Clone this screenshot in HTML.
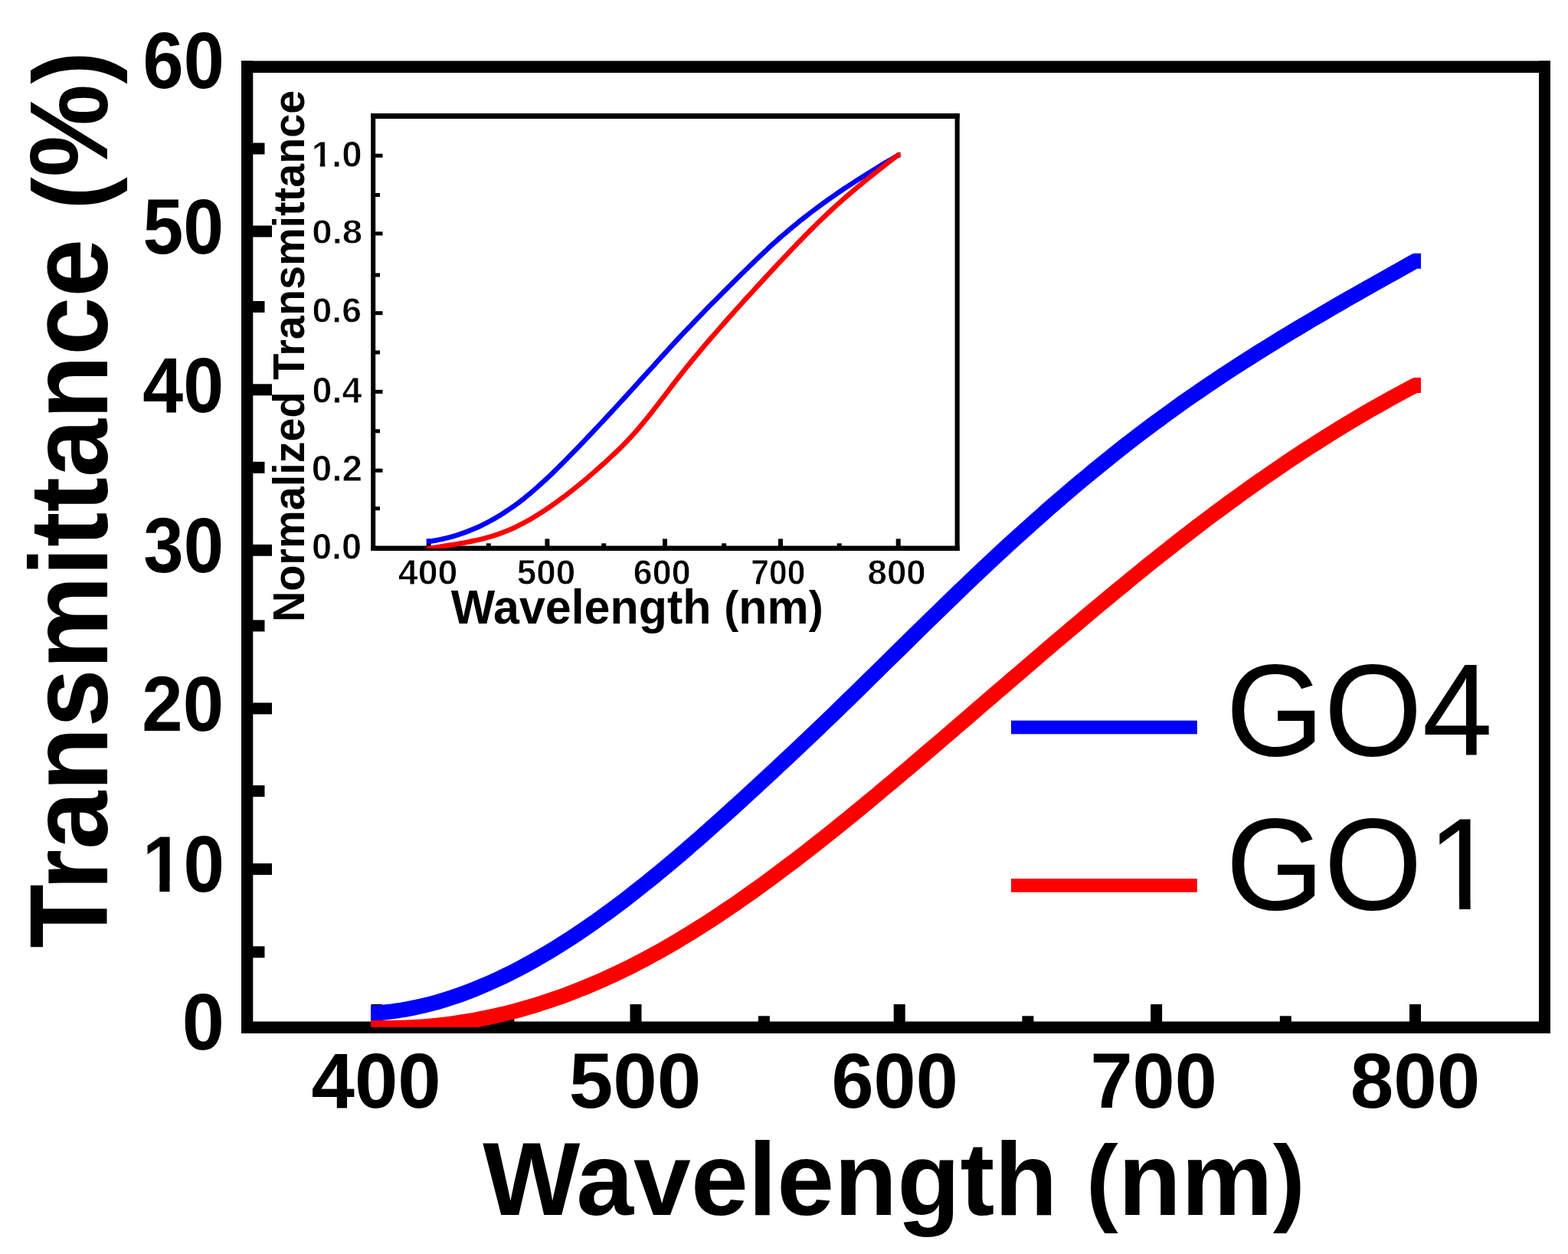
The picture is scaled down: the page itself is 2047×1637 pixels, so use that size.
<!DOCTYPE html>
<html><head><meta charset="utf-8"><title>Transmittance spectra</title>
<style>
html,body{margin:0;padding:0;background:#fff;overflow:hidden;}
svg{display:block;}
.b{font-family:"Liberation Sans",Arial,sans-serif;font-weight:bold;fill:#000;}
.thin{stroke:#fff;stroke-width:0.8px;}
.r{font-family:"Liberation Sans",Arial,sans-serif;font-weight:normal;fill:#000;}
</style></head>
<body>
<svg width="2047" height="1637" viewBox="0 0 2047 1637">
<defs>
<clipPath id="cm"><rect x="322" y="87" width="1694" height="1254"/></clipPath>
<clipPath id="ci"><rect x="487" y="151" width="763" height="565"/></clipPath>
</defs>
<rect width="2047" height="1637" fill="#fff"/>
<defs><clipPath id="cf10" clipPathUnits="userSpaceOnUse"><rect x="-5000.00" y="-5000.00" width="10000.00" height="6151.64"/><rect x="-5000.00" y="-5000.00" width="5180.47" height="10000.00"/><rect x="199.35" y="-5000.00" width="14.00" height="10000.00"/><rect x="230.93" y="-5000.00" width="5000.00" height="10000.00"/></clipPath><clipPath id="cf1d0" clipPathUnits="userSpaceOnUse"><rect x="-5000.00" y="-5000.00" width="10000.00" height="5210.56"/><rect x="-5000.00" y="-5000.00" width="5411.11" height="10000.00"/><rect x="420.10" y="-5000.00" width="6.04" height="10000.00"/><rect x="434.58" y="-5000.00" width="5000.00" height="10000.00"/></clipPath><clipPath id="cfgo1" clipPathUnits="userSpaceOnUse"><rect x="-5000.00" y="-5000.00" width="10000.00" height="6172.10"/><rect x="-5000.00" y="-5000.00" width="6876.38" height="10000.00"/><rect x="1906.98" y="-5000.00" width="14.67" height="10000.00"/><rect x="1950.96" y="-5000.00" width="5000.00" height="10000.00"/></clipPath></defs>
<g fill="#000">
<rect x="315" y="79.5" width="15.3" height="1269.5"/>
<rect x="2009" y="79.5" width="15" height="1269.5"/>
<rect x="315" y="79.5" width="1709" height="15.5"/>
<rect x="315" y="1333.5" width="1709" height="15.5"/>
<rect x="484.2" y="148" width="6" height="571"/>
<rect x="1246.6" y="148" width="6.1" height="571"/>
<rect x="484.2" y="148" width="768.5" height="7"/>
<rect x="484.2" y="712.5" width="768.5" height="6.5"/>
<rect x="330" y="294.5" width="25" height="15"/>
<rect x="330" y="501.3" width="25" height="15"/>
<rect x="330" y="710.8" width="25" height="15"/>
<rect x="330" y="917.4" width="25" height="15"/>
<rect x="330" y="1127.1" width="25" height="15"/>
<rect x="330" y="186.5" width="15.5" height="15"/>
<rect x="330" y="393.0" width="15.5" height="15"/>
<rect x="330" y="602.8" width="15.5" height="15"/>
<rect x="330" y="809.4" width="15.5" height="15"/>
<rect x="330" y="1025.2" width="15.5" height="15"/>
<rect x="330" y="1235.3" width="15.5" height="15"/>
<rect x="484.5" y="1311" width="15" height="23"/>
<rect x="822.5" y="1311" width="15" height="23"/>
<rect x="1166.7" y="1311" width="15" height="23"/>
<rect x="1502.1" y="1311" width="15" height="23"/>
<rect x="1840.0" y="1311" width="15" height="23"/>
<rect x="656.4" y="1326.3" width="15" height="8"/>
<rect x="989.9" y="1326.3" width="15" height="8"/>
<rect x="1334.4" y="1326.3" width="15" height="8"/>
<rect x="1670.8" y="1326.3" width="15" height="8"/>
<rect x="490" y="200.7" width="9.5" height="5"/>
<rect x="490" y="302.4" width="9.5" height="5"/>
<rect x="490" y="406.2" width="9.5" height="5"/>
<rect x="490" y="508.9" width="9.5" height="5"/>
<rect x="490" y="611.7" width="9.5" height="5"/>
<rect x="490" y="252.0" width="6" height="5"/>
<rect x="490" y="356.5" width="6" height="5"/>
<rect x="490" y="457.5" width="6" height="5"/>
<rect x="490" y="560.3" width="6" height="5"/>
<rect x="490" y="661.3" width="6" height="5"/>
<rect x="556.7" y="703.4" width="6" height="10"/>
<rect x="711.4" y="703.4" width="6" height="10"/>
<rect x="865.0" y="703.4" width="6" height="10"/>
<rect x="1016.0" y="703.4" width="6" height="10"/>
<rect x="1169.7" y="703.4" width="6" height="10"/>
<rect x="634.8" y="709.3" width="6" height="4"/>
<rect x="785.2" y="709.3" width="6" height="4"/>
<rect x="942.1" y="709.3" width="6" height="4"/>
<rect x="1092.7" y="709.3" width="6" height="4"/>
</g>
<g clip-path="url(#cm)" fill="none" stroke-width="20" stroke-linecap="butt" stroke-linejoin="round">
<path d="M484.0 1322.4 L492.2 1322.4 L502.0 1321.5 L511.7 1320.4 L521.5 1319.0 L531.2 1317.3 L541.0 1315.4 L550.7 1313.3 L560.5 1310.9 L570.2 1308.3 L580.0 1305.4 L589.7 1302.3 L599.5 1299.0 L609.2 1295.4 L619.0 1291.6 L628.7 1287.6 L638.5 1283.4 L648.2 1279.0 L658.0 1274.4 L667.7 1269.6 L677.5 1264.6 L687.2 1259.4 L697.0 1254.0 L706.7 1248.4 L716.5 1242.6 L726.2 1236.7 L736.0 1230.6 L745.7 1224.3 L755.5 1217.8 L765.2 1211.2 L775.0 1204.5 L784.7 1197.5 L794.5 1190.5 L804.2 1183.2 L814.0 1175.9 L823.7 1168.4 L833.5 1160.7 L843.2 1153.0 L853.0 1145.1 L862.7 1137.1 L872.5 1129.0 L882.2 1120.8 L892.0 1112.5 L901.7 1104.0 L911.5 1095.6 L921.2 1087.0 L931.0 1078.3 L940.7 1069.6 L950.5 1060.8 L960.2 1052.0 L970.0 1043.1 L979.7 1034.2 L989.5 1025.2 L999.2 1016.2 L1009.0 1007.1 L1018.7 998.0 L1028.5 988.9 L1038.2 979.7 L1048.0 970.5 L1057.7 961.2 L1067.5 951.9 L1077.2 942.6 L1087.0 933.2 L1096.7 923.8 L1106.5 914.3 L1116.2 904.8 L1126.0 895.3 L1135.7 885.7 L1145.5 876.1 L1155.2 866.5 L1165.0 856.9 L1174.7 847.3 L1184.5 837.8 L1194.2 828.2 L1204.0 818.6 L1213.7 809.1 L1223.5 799.6 L1233.2 790.1 L1243.0 780.7 L1252.7 771.3 L1262.5 761.9 L1272.2 752.6 L1282.0 743.4 L1291.7 734.3 L1301.5 725.2 L1311.2 716.2 L1321.0 707.2 L1330.7 698.4 L1340.5 689.6 L1350.2 680.8 L1360.0 672.2 L1369.7 663.6 L1379.5 655.2 L1389.2 646.8 L1399.0 638.4 L1408.7 630.2 L1418.5 622.1 L1428.2 614.0 L1438.0 606.1 L1447.7 598.2 L1457.5 590.4 L1467.2 582.7 L1477.0 575.1 L1486.7 567.6 L1496.5 560.2 L1506.2 552.9 L1516.0 545.8 L1525.7 538.7 L1535.5 531.7 L1545.2 524.7 L1555.0 517.9 L1564.7 511.2 L1574.5 504.5 L1584.2 497.9 L1594.0 491.4 L1603.7 485.0 L1613.5 478.7 L1623.2 472.4 L1633.0 466.2 L1642.7 460.0 L1652.5 453.9 L1662.2 447.9 L1672.0 441.9 L1681.7 436.0 L1691.5 430.1 L1701.2 424.3 L1711.0 418.5 L1720.7 412.8 L1730.5 407.1 L1740.2 401.4 L1750.0 395.8 L1759.7 390.2 L1769.5 384.6 L1779.2 379.1 L1789.0 373.6 L1798.7 368.1 L1808.5 362.6 L1818.2 357.2 L1828.0 351.7 L1837.7 346.3 L1847.5 340.8 L1855.0 340.8" stroke="#0000ff"/>
<path d="M484.0 1341.9 L492.0 1341.9 L501.8 1342.0 L511.5 1342.0 L521.3 1341.8 L531.0 1341.5 L540.8 1341.0 L550.5 1340.4 L560.3 1339.6 L570.0 1338.7 L579.8 1337.6 L589.5 1336.4 L599.3 1335.0 L609.0 1333.4 L618.8 1331.8 L628.5 1329.9 L638.3 1327.9 L648.0 1325.8 L657.8 1323.5 L667.5 1321.1 L677.3 1318.5 L687.0 1315.7 L696.8 1312.8 L706.5 1309.8 L716.3 1306.6 L726.0 1303.3 L735.8 1299.8 L745.5 1296.1 L755.3 1292.3 L765.1 1288.4 L774.8 1284.3 L784.6 1280.1 L794.3 1275.7 L804.1 1271.2 L813.8 1266.5 L823.6 1261.7 L833.3 1256.7 L843.1 1251.6 L852.8 1246.3 L862.6 1240.9 L872.3 1235.3 L882.1 1229.7 L891.8 1223.8 L901.6 1217.9 L911.3 1211.8 L921.1 1205.6 L930.8 1199.3 L940.6 1192.9 L950.3 1186.3 L960.1 1179.7 L969.8 1172.9 L979.6 1166.0 L989.3 1159.1 L999.1 1152.0 L1008.8 1144.9 L1018.6 1137.6 L1028.3 1130.3 L1038.1 1122.9 L1047.9 1115.4 L1057.6 1107.8 L1067.4 1100.2 L1077.1 1092.5 L1086.9 1084.7 L1096.6 1076.9 L1106.4 1069.0 L1116.1 1061.0 L1125.9 1053.0 L1135.6 1045.0 L1145.4 1036.9 L1155.1 1028.7 L1164.9 1020.6 L1174.6 1012.3 L1184.4 1004.1 L1194.1 995.8 L1203.9 987.5 L1213.6 979.2 L1223.4 970.8 L1233.1 962.5 L1242.9 954.1 L1252.6 945.7 L1262.4 937.3 L1272.1 928.9 L1281.9 920.5 L1291.6 912.1 L1301.4 903.7 L1311.2 895.3 L1320.9 886.9 L1330.7 878.6 L1340.4 870.2 L1350.2 861.8 L1359.9 853.5 L1369.7 845.2 L1379.4 836.8 L1389.2 828.6 L1398.9 820.3 L1408.7 812.1 L1418.4 803.9 L1428.2 795.7 L1437.9 787.6 L1447.7 779.5 L1457.4 771.4 L1467.2 763.4 L1476.9 755.4 L1486.7 747.5 L1496.4 739.6 L1506.2 731.8 L1515.9 724.0 L1525.7 716.3 L1535.4 708.6 L1545.2 701.0 L1554.9 693.5 L1564.7 686.0 L1574.4 678.6 L1584.2 671.3 L1594.0 664.1 L1603.7 656.9 L1613.5 649.8 L1623.2 642.7 L1633.0 635.8 L1642.7 628.9 L1652.5 622.1 L1662.2 615.4 L1672.0 608.7 L1681.7 602.1 L1691.5 595.6 L1701.2 589.2 L1711.0 582.9 L1720.7 576.7 L1730.5 570.5 L1740.2 564.4 L1750.0 558.4 L1759.7 552.5 L1769.5 546.7 L1779.2 540.9 L1789.0 535.2 L1798.7 529.7 L1808.5 524.2 L1818.2 518.8 L1828.0 513.5 L1837.7 508.3 L1847.5 503.1 L1855.0 503.1" stroke="#ff0000"/>
</g>
<g clip-path="url(#ci)" fill="none" stroke-width="6.5" stroke-linecap="butt" stroke-linejoin="round">
<path d="M557.0 706.8 L559.7 706.8 L564.1 706.2 L568.5 705.5 L572.9 704.6 L577.3 703.7 L581.8 702.7 L586.2 701.6 L590.6 700.4 L595.0 699.1 L599.4 697.7 L603.8 696.2 L608.2 694.6 L612.6 692.9 L617.0 691.1 L621.4 689.2 L625.9 687.2 L630.3 685.1 L634.7 682.9 L639.1 680.5 L643.5 678.1 L647.9 675.6 L652.3 672.9 L656.7 670.2 L661.1 667.3 L665.5 664.4 L670.0 661.3 L674.4 658.1 L678.8 654.8 L683.2 651.4 L687.6 647.8 L692.0 644.2 L696.4 640.4 L700.8 636.6 L705.2 632.6 L709.6 628.6 L714.1 624.5 L718.5 620.3 L722.9 616.1 L727.3 611.7 L731.7 607.4 L736.1 603.0 L740.5 598.5 L744.9 594.0 L749.3 589.5 L753.7 584.9 L758.2 580.3 L762.6 575.7 L767.0 571.1 L771.4 566.5 L775.8 561.8 L780.2 557.1 L784.6 552.4 L789.0 547.7 L793.4 543.0 L797.8 538.2 L802.3 533.4 L806.7 528.6 L811.1 523.8 L815.5 519.0 L819.9 514.2 L824.3 509.4 L828.7 504.5 L833.1 499.6 L837.5 494.8 L841.9 489.9 L846.4 485.0 L850.8 480.1 L855.2 475.3 L859.6 470.4 L864.0 465.5 L868.4 460.7 L872.8 455.8 L877.2 451.0 L881.6 446.3 L886.0 441.5 L890.5 436.8 L894.9 432.1 L899.3 427.5 L903.7 422.9 L908.1 418.3 L912.5 413.7 L916.9 409.2 L921.3 404.6 L925.7 400.1 L930.1 395.6 L934.6 391.2 L939.0 386.7 L943.4 382.3 L947.8 377.9 L952.2 373.5 L956.6 369.1 L961.0 364.7 L965.4 360.4 L969.8 356.0 L974.2 351.7 L978.7 347.4 L983.1 343.1 L987.5 338.8 L991.9 334.6 L996.3 330.4 L1000.7 326.3 L1005.1 322.2 L1009.5 318.1 L1013.9 314.2 L1018.3 310.3 L1022.8 306.4 L1027.2 302.7 L1031.6 298.9 L1036.0 295.3 L1040.4 291.7 L1044.8 288.1 L1049.2 284.6 L1053.6 281.2 L1058.0 277.8 L1062.4 274.5 L1066.9 271.2 L1071.3 267.9 L1075.7 264.7 L1080.1 261.5 L1084.5 258.4 L1088.9 255.3 L1093.3 252.3 L1097.7 249.3 L1102.1 246.3 L1106.5 243.4 L1111.0 240.5 L1115.4 237.6 L1119.8 234.8 L1124.2 232.0 L1128.6 229.2 L1133.0 226.4 L1137.4 223.7 L1141.8 221.0 L1146.2 218.3 L1150.6 215.6 L1155.1 212.9 L1159.5 210.3 L1163.9 207.7 L1168.3 205.1 L1172.7 202.5 L1175.5 202.5" stroke="#0000ff"/>
<path d="M557.0 716.0 L559.7 716.0 L564.1 715.3 L568.5 714.6 L572.9 713.9 L577.3 713.2 L581.8 712.5 L586.2 711.8 L590.6 711.1 L595.0 710.4 L599.4 709.7 L603.8 708.9 L608.2 708.1 L612.6 707.2 L617.0 706.3 L621.4 705.4 L625.9 704.4 L630.3 703.3 L634.7 702.1 L639.1 700.9 L643.5 699.6 L647.9 698.2 L652.3 696.6 L656.7 695.0 L661.1 693.3 L665.5 691.4 L670.0 689.5 L674.4 687.4 L678.8 685.2 L683.2 682.9 L687.6 680.5 L692.0 678.1 L696.4 675.5 L700.8 672.8 L705.2 670.0 L709.6 667.2 L714.1 664.2 L718.5 661.2 L722.9 658.1 L727.3 655.0 L731.7 651.7 L736.1 648.5 L740.5 645.1 L744.9 641.7 L749.3 638.2 L753.7 634.7 L758.2 631.1 L762.6 627.4 L767.0 623.7 L771.4 619.9 L775.8 616.1 L780.2 612.2 L784.6 608.3 L789.0 604.3 L793.4 600.3 L797.8 596.2 L802.3 592.0 L806.7 587.8 L811.1 583.5 L815.5 579.0 L819.9 574.5 L824.3 569.7 L828.7 564.9 L833.1 559.8 L837.5 554.6 L841.9 549.2 L846.4 543.8 L850.8 538.2 L855.2 532.6 L859.6 526.9 L864.0 521.1 L868.4 515.4 L872.8 509.6 L877.2 503.8 L881.6 498.1 L886.0 492.4 L890.5 486.8 L894.9 481.3 L899.3 475.8 L903.7 470.4 L908.1 465.1 L912.5 459.8 L916.9 454.6 L921.3 449.4 L925.7 444.2 L930.1 439.1 L934.6 434.1 L939.0 429.0 L943.4 424.0 L947.8 419.0 L952.2 414.0 L956.6 409.1 L961.0 404.2 L965.4 399.3 L969.8 394.4 L974.2 389.5 L978.7 384.7 L983.1 379.8 L987.5 375.0 L991.9 370.2 L996.3 365.5 L1000.7 360.7 L1005.1 356.0 L1009.5 351.2 L1013.9 346.5 L1018.3 341.8 L1022.8 337.1 L1027.2 332.4 L1031.6 327.8 L1036.0 323.1 L1040.4 318.6 L1044.8 314.0 L1049.2 309.5 L1053.6 305.0 L1058.0 300.6 L1062.4 296.2 L1066.9 291.8 L1071.3 287.5 L1075.7 283.3 L1080.1 279.1 L1084.5 275.0 L1088.9 270.9 L1093.3 266.9 L1097.7 263.0 L1102.1 259.1 L1106.5 255.3 L1111.0 251.5 L1115.4 247.8 L1119.8 244.1 L1124.2 240.5 L1128.6 236.8 L1133.0 233.3 L1137.4 229.7 L1141.8 226.2 L1146.2 222.7 L1150.6 219.2 L1155.1 215.8 L1159.5 212.3 L1163.9 208.9 L1168.3 205.5 L1172.7 202.1 L1175.5 202.1" stroke="#ff0000"/>
</g>
<rect x="1320" y="940.6" width="242.8" height="17.7" fill="#0000ff"/>
<rect x="1320" y="1147" width="242.8" height="17.7" fill="#ff0000"/>
<g transform="matrix(0.93585 0 0 1.01667 22.28 -1.43)"><text x="289" y="114.9" text-anchor="end" class="b" font-size="102">60</text></g>
<g transform="matrix(0.93113 0 0 1.00417 22.93 -1.48)"><text x="289" y="330.8" text-anchor="end" class="b" font-size="102">50</text></g>
<g transform="matrix(0.93241 0 0 1.00556 22.56 -2.79)"><text x="289" y="538.0" text-anchor="end" class="b" font-size="102">40</text></g>
<g transform="matrix(0.92243 0 0 1.00556 25.41 -4.16)"><text x="289" y="746.8" text-anchor="end" class="b" font-size="102">30</text></g>
<g transform="matrix(0.94057 0 0 1.00556 20.24 -5.01)"><text x="289" y="954.1" text-anchor="end" class="b" font-size="102">20</text></g>
<g transform="matrix(0.94272 0 0 1.01806 20.43 -20.83)"><text x="289" y="1163.6" text-anchor="end" class="b" font-size="102" clip-path="url(#cf10)">10</text></g>
<g transform="matrix(0.97143 0 0 1.01944 12.24 -26.26)"><text x="289" y="1369.7" text-anchor="end" class="b" font-size="102">0</text></g>
<g transform="matrix(0.99451 0 0 0.99722 3.73 3.22)"><text x="490.1" y="1447" text-anchor="middle" class="b" font-size="102">400</text></g>
<g transform="matrix(1.01534 0 0 1.00694 -12.46 -10.56)"><text x="828.8" y="1447" text-anchor="middle" class="b" font-size="102">500</text></g>
<g transform="matrix(0.97099 0 0 1.00694 33.94 -10.56)"><text x="1168.1" y="1447" text-anchor="middle" class="b" font-size="102">600</text></g>
<g transform="matrix(0.97099 0 0 1.00694 43.74 -10.56)"><text x="1506.1" y="1447" text-anchor="middle" class="b" font-size="102">700</text></g>
<g transform="matrix(0.99630 0 0 1.00694 7.14 -10.56)"><text x="1847.3" y="1447" text-anchor="middle" class="b" font-size="102">800</text></g>
<g transform="matrix(1.08036 0 0 1.10690 -36.09 -21.49)"><text x="471" y="216.6" text-anchor="end" class="b thin" font-size="44" clip-path="url(#cf1d0)">1.0</text></g>
<g transform="matrix(1.07719 0 0 1.02759 -34.20 -8.24)"><text x="471" y="317.6" text-anchor="end" class="b thin" font-size="44">0.8</text></g>
<g transform="matrix(1.05439 0 0 1.06207 -24.61 -24.91)"><text x="471" y="419.7" text-anchor="end" class="b thin" font-size="44">0.6</text></g>
<g transform="matrix(1.06034 0 0 1.07586 -27.06 -38.08)"><text x="471" y="524.0" text-anchor="end" class="b thin" font-size="44">0.4</text></g>
<g transform="matrix(1.08421 0 0 1.07586 -37.49 -45.71)"><text x="471" y="626.1" text-anchor="end" class="b thin" font-size="44">0.2</text></g>
<g transform="matrix(1.06842 0 0 1.09310 -30.99 -65.79)"><text x="471" y="728.0" text-anchor="end" class="b thin" font-size="44">0.0</text></g>
<g transform="matrix(1.05714 0 0 1.06207 -31.59 -46.43)"><text x="558.3" y="762" text-anchor="middle" class="b thin" font-size="44">400</text></g>
<g transform="matrix(1.04203 0 0 1.06207 -30.24 -46.43)"><text x="713.2" y="762" text-anchor="middle" class="b thin" font-size="44">500</text></g>
<g transform="matrix(1.02029 0 0 1.05172 -17.64 -38.16)"><text x="864.4" y="762" text-anchor="middle" class="b thin" font-size="44">600</text></g>
<g transform="matrix(0.96812 0 0 1.05172 32.11 -38.16)"><text x="1016.2" y="762" text-anchor="middle" class="b thin" font-size="44">700</text></g>
<g transform="matrix(1.03857 0 0 1.05172 -44.78 -38.16)"><text x="1170.3" y="762" text-anchor="middle" class="b thin" font-size="44">800</text></g>
<g transform="matrix(1.00433 0 0 1.00652 -1.52 -10.34)"><text x="629" y="1586" class="b" font-size="134">Wavelength <tspan font-size="125.56" dy="-2.18">(</tspan><tspan font-size="134" dy="2.18">nm</tspan><tspan font-size="125.56" dy="-2.18">)</tspan></text></g>
<g transform="matrix(1.10110 0 0 1.03473 -14.75 -40.12)"><text transform="translate(140.5,1235) rotate(-90)" class="b" font-size="132">Transmittance <tspan font-size="123.68" dy="-2.15">(</tspan><tspan font-size="132" dy="2.15">%</tspan><tspan font-size="123.68" dy="-2.15">)</tspan></text></g>
<g transform="matrix(0.98269 0 0 1.01190 9.61 -9.89)"><text x="589.4" y="813.8" class="b" font-size="62">Wavelength <tspan font-size="58.09" dy="-1.01">(</tspan><tspan font-size="62" dy="1.01">nm</tspan><tspan font-size="58.09" dy="-1.01">)</tspan></text></g>
<g transform="matrix(1.02895 0 0 0.99624 -11.82 7.03)"><text transform="translate(397.7,808) rotate(-90)" class="b" font-size="56">Normalized Transmittance</text></g>
<g transform="matrix(0.99290 0 0 1.03248 11.62 -32.19)"><text x="1600" y="986" class="r" font-size="166">GO4</text></g>
<g transform="matrix(0.99290 0 0 1.03248 11.62 -37.78)"><text x="1600" y="1186" class="r" font-size="166" clip-path="url(#cfgo1)">GO<tspan dx="7">1</tspan></text></g>
</svg>
</body></html>
